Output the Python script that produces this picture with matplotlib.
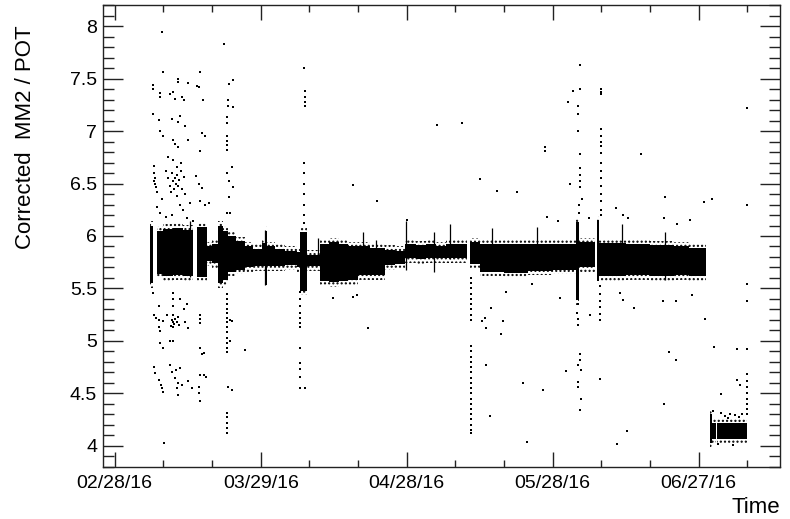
import numpy as np
import matplotlib
matplotlib.use("Agg")
import matplotlib.pyplot as plt
from matplotlib.ticker import FixedLocator, MultipleLocator, FixedFormatter, FuncFormatter

# ---- axis ticks (x in days since 02/28/16) ----
x_tick_days = [0, 30, 60, 90, 120]
x_tick_labels = ["02/28/16", "03/29/16", "04/28/16", "05/28/16", "06/27/16"]
x_minor_days = [10, 20, 40, 50, 70, 80, 100, 110, 130]

# ---- dense band: segments (start day, end day, low, high) ----
band_start = [7.3, 8.6, 10.0, 12.0, 14.0, 16.9, 18.9, 20.0, 21.2, 22.3, 23.3, 25.0, 26.8,
              28.5, 30.3, 31.0, 31.3, 33.0, 35.0, 37.5, 38.0, 39.5, 42.2, 44.0, 46.0,
              48.0, 50.0, 52.5, 55.5, 57.5, 59.6, 62.0, 64.0, 66.0, 68.0, 73.0, 75.1,
              80.0, 85.0, 90.0, 94.8, 95.5, 99.0, 99.5, 105.0, 110.0, 115.0, 118.0,
              122.3, 122.8, 123.75]
band_end = [7.8, 10.0, 12.0, 14.0, 16.1, 18.9, 20.0, 21.2, 22.3, 23.3, 25.0, 26.8, 28.5,
            30.3, 31.0, 31.3, 33.0, 35.0, 37.5, 38.0, 39.5, 42.2, 44.0, 46.0, 48.0,
            50.0, 52.5, 55.5, 57.5, 59.6, 62.0, 64.0, 66.0, 68.0, 72.4, 75.1, 80.0,
            85.0, 90.0, 94.8, 95.5, 98.7, 99.5, 105.0, 110.0, 115.0, 118.0, 121.6,
            122.8, 123.5, 129.9]
band_lo = [5.55, 5.64, 5.62, 5.63, 5.62, 5.61, 5.76, 5.74, 5.55, 5.58, 5.66, 5.68, 5.70,
           5.71, 5.71, 5.53, 5.71, 5.71, 5.72, 5.70, 5.48, 5.71, 5.57, 5.56, 5.57,
           5.58, 5.63, 5.63, 5.72, 5.73, 5.79, 5.78, 5.79, 5.79, 5.79, 5.73, 5.66,
           5.65, 5.67, 5.68, 5.39, 5.70, 5.57, 5.62, 5.63, 5.62, 5.63, 5.62,
           4.03, 4.06, 4.06]
band_hi = [6.10, 6.05, 6.07, 6.08, 6.06, 6.09, 5.90, 5.92, 6.10, 6.05, 6.00, 5.95, 5.90,
           5.88, 5.93, 6.05, 5.90, 5.88, 5.86, 5.85, 6.04, 5.82, 5.92, 5.94, 5.92,
           5.90, 5.90, 5.89, 5.87, 5.86, 5.92, 5.91, 5.92, 5.90, 5.92, 5.94, 5.92,
           5.92, 5.92, 5.92, 6.13, 5.94, 6.15, 5.93, 5.92, 5.91, 5.90, 5.89,
           4.30, 4.22, 4.22]

# ---- thin vertical spikes inside the band ----
spike_day = [15.5, 30.9, 41.8, 51.1, 53.7, 59.9, 65.7, 68.9, 77.5, 86.7, 104.2, 113.1]
spike_lo = [5.61, 5.53, 5.76, 5.72, 5.72, 5.68, 5.66, 5.78, 5.75, 5.70, 5.68, 5.58]
spike_hi = [6.14, 6.06, 5.98, 6.04, 5.96, 6.14, 6.04, 6.11, 6.08, 6.09, 6.11, 6.04]

# ---- isolated points ----
pts = [
    # early period, above band
    (9.66, 7.95), (22.5, 7.83), (10.0, 7.56), (17.5, 7.56), (13.1, 7.50), (13.1, 7.47),
    (15.1, 7.46), (7.9, 7.44), (7.9, 7.40), (17.0, 7.43), (23.5, 7.45), (24.4, 7.49),
    (17.4, 7.42), (9.3, 7.36), (9.3, 7.33), (11.4, 7.35), (11.9, 7.37), (12.3, 7.31),
    (13.8, 7.33), (14.2, 7.30), (18.2, 7.30), (23.3, 7.30), (23.2, 7.24), (24.4, 7.23),
    (7.9, 7.16), (9.0, 7.11), (11.7, 7.12), (13.4, 7.14), (13.0, 7.09), (23.0, 7.13),
    (23.0, 7.08), (14.4, 7.05), (17.9, 6.98), (18.6, 6.95), (9.3, 7.00), (10.0, 6.95),
    (12.0, 6.92), (12.4, 6.88), (13.1, 6.85), (15.1, 6.92), (17.5, 6.81), (23.0, 6.95),
    (23.0, 6.91), (23.0, 6.87), (23.0, 6.82), (11.0, 6.75), (12.0, 6.72), (13.7, 6.70),
    (8.0, 6.67), (8.1, 6.60), (8.2, 6.55), (8.3, 6.50), (8.5, 6.47), (8.6, 6.42),
    (8.0, 6.52), (10.6, 6.62), (11.0, 6.55), (11.3, 6.48), (11.7, 6.60), (12.0, 6.52),
    (12.2, 6.45), (12.4, 6.55), (12.6, 6.50), (12.8, 6.58), (13.0, 6.48), (13.3, 6.53),
    (13.6, 6.62), (13.9, 6.45), (14.2, 6.56), (14.4, 6.40), (11.5, 6.42), (12.9, 6.66),
    (16.8, 6.57), (17.4, 6.50), (17.9, 6.46), (23.0, 6.60), (23.5, 6.52), (24.0, 6.66),
    (24.3, 6.47), (23.5, 6.37), (8.7, 6.28), (9.3, 6.22), (13.4, 6.30), (14.0, 6.25),
    (15.4, 6.31), (17.5, 6.33), (18.6, 6.30), (19.4, 6.31), (23.0, 6.22), (23.7, 6.22),
    (9.8, 6.35), (10.5, 6.18), (11.8, 6.20), (14.8, 6.17), (16.0, 6.14), (12.9, 6.38),
    # early period, below band
    (7.9, 5.46), (9.0, 5.33), (12.0, 5.46), (12.0, 5.40), (12.0, 5.33), (12.0, 5.25),
    (12.0, 5.18), (12.0, 5.13), (13.4, 5.40), (14.2, 5.30), (14.8, 5.35), (8.0, 5.25),
    (8.5, 5.22), (9.0, 5.20), (10.0, 5.19), (10.7, 5.25), (11.8, 5.20), (12.2, 5.16),
    (12.4, 5.21), (12.7, 5.18), (13.0, 5.23), (13.2, 5.15), (11.6, 5.14), (14.5, 5.18),
    (15.1, 5.12), (17.5, 5.25), (17.5, 5.21), (17.5, 5.17), (9.0, 5.13), (9.3, 5.09),
    (11.4, 5.00), (12.0, 5.00), (9.3, 4.98), (10.0, 4.93), (17.5, 4.93), (17.9, 4.87),
    (26.8, 4.91), (23.0, 5.45), (23.0, 5.40), (23.0, 5.35), (23.0, 5.30), (23.0, 5.27),
    (23.0, 5.22), (23.0, 5.18), (23.0, 5.13), (23.0, 5.08), (23.0, 5.03), (23.0, 4.98),
    (23.0, 4.93), (23.0, 4.89), (23.7, 5.20), (24.2, 5.19), (23.7, 5.00), (18.4, 4.88),
    (17.5, 4.67), (8.1, 4.75), (8.3, 4.69), (9.1, 4.63), (9.5, 4.58), (10.0, 4.51),
    (9.8, 4.55), (11.4, 4.77), (11.8, 4.70), (12.3, 4.65), (12.6, 4.72), (13.0, 4.60),
    (13.4, 4.74), (13.8, 4.58), (12.8, 4.55), (13.1, 4.48), (15.1, 4.62), (15.9, 4.55),
    (17.3, 4.56), (17.4, 4.50), (17.5, 4.43), (18.4, 4.67), (18.7, 4.66), (23.3, 4.56),
    (24.2, 4.53), (23.0, 4.31), (23.0, 4.27), (23.0, 4.22), (23.0, 4.17), (23.0, 4.12),
    (10.1, 4.03),
    # April
    (38.1, 5.47), (38.1, 5.40), (38.1, 5.33), (38.1, 5.27), (38.1, 5.22), (38.1, 5.17),
    (38.1, 5.13), (38.1, 4.93), (38.1, 4.79), (38.1, 4.73), (38.1, 4.66), (38.1, 4.55),
    (39.1, 4.55), (38.9, 7.60), (39.0, 7.38), (39.0, 7.33), (39.0, 7.28), (39.0, 7.24),
    (38.9, 6.70), (38.9, 6.60), (38.9, 6.50), (38.9, 6.40), (38.9, 6.30), (38.9, 6.20),
    (38.9, 6.12), (52.1, 5.12), (49.7, 5.44), (44.9, 5.41), (49.0, 5.42), (49.0, 6.49),
    (53.8, 6.33), (60.0, 6.15), (66.2, 7.06), (71.4, 7.08),
    # May
    (73.2, 5.60), (73.2, 5.55), (73.2, 5.50), (73.2, 5.45), (73.2, 5.40), (73.2, 5.35),
    (73.2, 5.30), (73.2, 5.25), (73.2, 5.20), (73.2, 4.95), (73.2, 4.90), (73.2, 4.85),
    (73.2, 4.80), (73.2, 4.75), (73.2, 4.70), (73.2, 4.65), (73.2, 4.60), (73.2, 4.55),
    (73.2, 4.50), (73.2, 4.45), (73.2, 4.40), (73.2, 4.35), (73.2, 4.30), (73.2, 4.25),
    (73.2, 4.20), (73.2, 4.15), (73.2, 4.12), (75.0, 6.54), (78.5, 6.43), (82.6, 6.42),
    (88.4, 6.81), (88.4, 6.85), (75.4, 5.19), (76.1, 5.22), (77.3, 5.31), (76.2, 5.12),
    (79.7, 5.19), (79.4, 5.07), (80.5, 5.47), (76.2, 4.77), (77.2, 4.28), (83.8, 4.60),
    (88.1, 4.53), (84.8, 4.04), (92.7, 4.71), (91.5, 5.41), (85.7, 5.54),
    (95.2, 5.50), (95.2, 5.45), (95.2, 5.40), (95.2, 5.35), (95.0, 5.27), (95.3, 5.21),
    (95.1, 5.15), (95.6, 4.87), (95.6, 4.82), (95.2, 4.77), (95.8, 4.72), (95.1, 4.61),
    (95.3, 4.56), (95.8, 4.45), (95.6, 4.34), (97.7, 5.25),
    (99.7, 5.52), (99.7, 5.45), (99.7, 5.38), (99.7, 5.32), (99.7, 5.26), (99.7, 5.20),
    (99.7, 4.64), (95.6, 6.78), (95.6, 6.65), (95.6, 6.58), (95.6, 6.52), (95.6, 6.47),
    (93.5, 6.50), (96.0, 6.35), (95.6, 7.63), (95.6, 7.40), (94.2, 7.38), (93.2, 7.28),
    (95.1, 7.24), (95.1, 7.16), (95.1, 7.00), (95.4, 6.30), (95.4, 6.22),
    (99.9, 6.79), (99.9, 6.70), (99.9, 6.62), (99.9, 6.55), (99.9, 6.48), (99.9, 6.40),
    (99.9, 6.33), (99.9, 6.25), (99.9, 6.20), (99.9, 7.40), (99.9, 7.37), (99.9, 7.35),
    (99.9, 7.02), (99.9, 6.95), (99.9, 6.90), (99.9, 6.86), (88.9, 6.18), (91.1, 6.14),
    (97.5, 6.17),
    # June / July
    (103.9, 5.46), (104.4, 5.39), (106.8, 5.31), (105.3, 4.14), (103.3, 4.02),
    (112.7, 5.38), (115.3, 5.38), (114.0, 4.89), (115.3, 4.82), (112.9, 4.40),
    (121.3, 5.21), (118.6, 5.44), (123.1, 4.94), (124.6, 4.49), (127.8, 4.63),
    (128.5, 4.58), (127.8, 4.92), (129.9, 4.92), (129.9, 4.68), (129.9, 4.62),
    (129.9, 4.56), (129.9, 4.50), (129.9, 4.45), (129.9, 4.40), (129.9, 4.35),
    (129.9, 4.30), (129.9, 5.54), (129.9, 5.38), (129.9, 6.30), (129.9, 7.22),
    (108.1, 6.78), (113.1, 6.37), (122.7, 6.35), (121.0, 6.32), (103.0, 6.27),
    (104.5, 6.20), (105.5, 6.17), (112.9, 6.17), (115.6, 6.11), (118.3, 6.15),
    (123.0, 4.33), (124.5, 4.31), (125.5, 4.28), (126.5, 4.30), (127.5, 4.29),
    (128.3, 4.27), (129.0, 4.30), (126.0, 4.26), (124.0, 4.02), (127.0, 4.01),
]
pt_day = [p[0] for p in pts]
pt_val = [p[1] for p in pts]

# ---- figure ----
plt.rcParams['font.family'] = ['Liberation Sans', 'DejaVu Sans']
plt.rcParams['hatch.linewidth'] = 1.0
fig = plt.figure(figsize=(7.9, 5.19), dpi=100)
ax = fig.add_axes([0.130, 0.1008, 0.9873 - 0.130, 0.9898 - 0.1008])

starts = np.array(band_start)
ends = np.array(band_end)
lo = np.array(band_lo)
hi = np.array(band_hi)
# sparse halo of scattered entries just outside the dense core
halo = 0.045
ax.bar(starts, (hi - lo) + 2 * halo, width=ends - starts, bottom=lo - halo, align='edge',
       facecolor='none', edgecolor='black', hatch='....', linewidth=0)
ax.bar(starts, hi - lo, width=ends - starts, bottom=lo, align='edge',
       color='black', linewidth=0)
ax.vlines(spike_day, spike_lo, spike_hi, color='black', lw=0.9)
ax.plot(pt_day, pt_val, ls='none', marker='s', ms=1.7, mew=0, color='black')

ax.set_xlim(-2.47, 136.7)
ax.set_ylim(3.8, 8.2)

ax.xaxis.set_major_locator(FixedLocator(x_tick_days))
ax.xaxis.set_major_formatter(FixedFormatter(x_tick_labels))
ax.xaxis.set_minor_locator(FixedLocator(x_minor_days))
ax.yaxis.set_major_locator(MultipleLocator(0.5))
ax.yaxis.set_minor_locator(MultipleLocator(0.1))
ax.yaxis.set_major_formatter(FuncFormatter(lambda v, p: f"{v:g}"))

edge = '#222222'
for s in ax.spines.values():
    s.set_linewidth(1.0)
    s.set_color(edge)
ax.tick_params(which='both', direction='in', top=True, right=True, color=edge, width=1.0,
               labelsize=14)
ax.tick_params(axis='x', which='major', length=10.8, pad=6)
ax.tick_params(axis='x', which='minor', length=5.0)
ax.tick_params(axis='y', which='major', length=14.4, pad=4)
ax.tick_params(axis='y', which='minor', length=7.9)

fig.text(26 / 790, 1 - 25 / 519, "Corrected  MM2 / POT", rotation=90,
         ha='center', va='top', fontsize=16)
fig.text(780 / 790, 1 - 513 / 519, "Time", ha='right', va='baseline', fontsize=16)

fig.savefig("out.png", dpi=100)
